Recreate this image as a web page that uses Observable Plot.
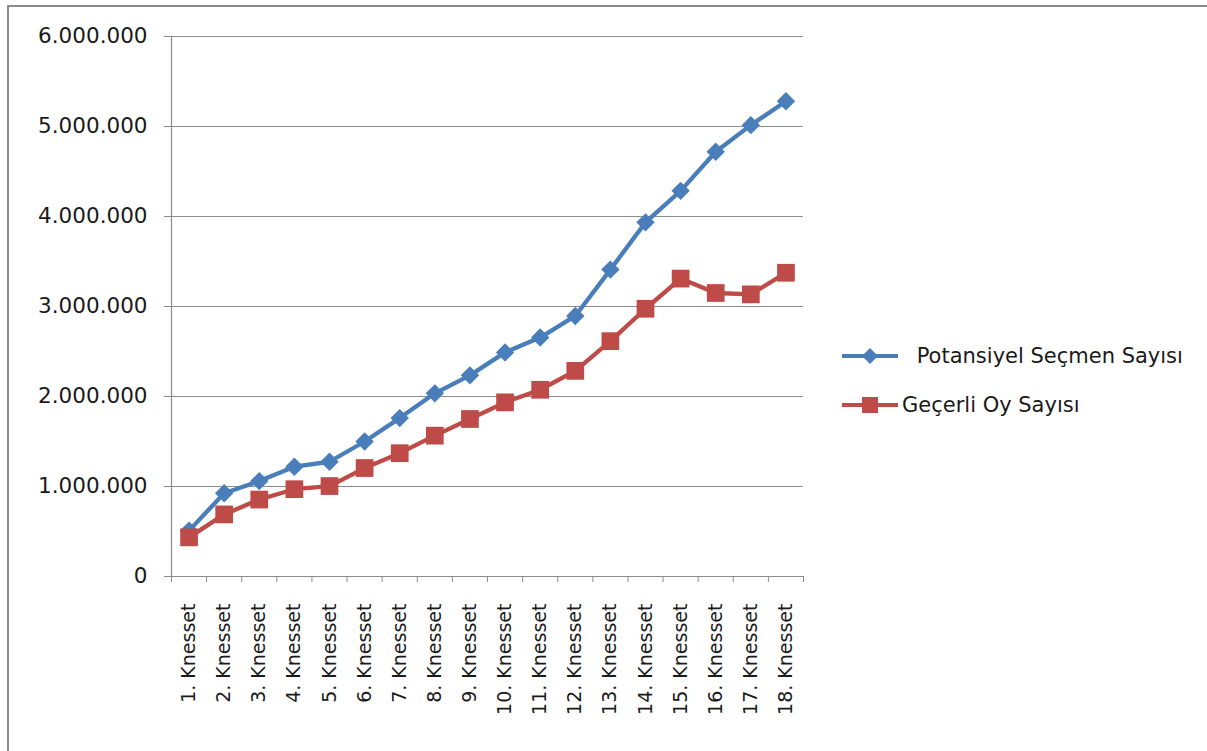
<!DOCTYPE html>
<html>
<head>
<meta charset="utf-8">
<script src="https://cdn.jsdelivr.net/npm/d3@7"></script>
<script src="https://cdn.jsdelivr.net/npm/@observablehq/plot@0.6"></script>
<style>
  body { margin: 0; background: #fff; }
  #wrap { position: relative; width: 1207px; height: 751px; overflow: hidden; background: #fff; }
  #frame { position: absolute; left: 7px; top: 5px; width: 1220px; height: 800px;
           border-left: 2px solid #8c8c8c; border-top: 2px solid #8c8c8c; }
  #chart { position: absolute; left: 0; top: 0; }
  .leg { position: absolute; display: flex; align-items: center; font-family: "DejaVu Sans"; font-size: 21px; color: #1a1a1a; white-space: pre; }
  .leg svg { display: block; }
</style>
</head>
<body>
<div id="wrap">
  <div id="frame"></div>
  <div id="chart"></div>
  <div class="leg" id="leg1" style="left:842px; top:343px;"></div>
  <div class="leg" id="leg2" style="left:842px; top:392px;"></div>
</div>
<script>
const categories = ["1. Knesset","2. Knesset","3. Knesset","4. Knesset","5. Knesset","6. Knesset",
  "7. Knesset","8. Knesset","9. Knesset","10. Knesset","11. Knesset","12. Knesset",
  "13. Knesset","14. Knesset","15. Knesset","16. Knesset","17. Knesset","18. Knesset"];
const potansiyelSecmen = [510000, 925000, 1060000, 1220000, 1275000, 1500000, 1760000, 2035000, 2235000,
  2490000, 2655000, 2895000, 3410000, 3935000, 4285000, 4720000, 5015000, 5280000];
const gecerliOy = [435000, 690000, 855000, 970000, 1005000, 1205000, 1370000, 1565000, 1750000,
  1935000, 2075000, 2285000, 2615000, 2975000, 3310000, 3150000, 3135000, 3375000];
const seriesNames = [" Potansiyel Seçmen Sayısı", "Geçerli Oy Sayısı"];
const yTicks = [0, 1000000, 2000000, 3000000, 4000000, 5000000, 6000000];

const blue = "#4a7ebb";
const red = "#be4b48";
const gridColor = "#8c8c8c";

const rows = categories.map((c, i) => ({i: i + 1, c, p: potansiyelSecmen[i], g: gecerliOy[i]}));
const fmt = d => d3.format(",")(d).replace(/,/g, ".");
const boundaries = d3.range(0.5, categories.length + 1, 1);

const chart = Plot.plot({
  width: 1207, height: 751,
  marginLeft: 171, marginRight: 404, marginTop: 36, marginBottom: 175,
  style: {fontFamily: "DejaVu Sans", background: "transparent", color: "#1a1a1a"},
  x: {type: "linear", domain: [0.5, categories.length + 0.5]},
  y: {domain: [0, 6000000]},
  marks: [
    Plot.gridY(yTicks, {stroke: gridColor, strokeOpacity: 1, strokeWidth: 1.2}),
    Plot.axisY(yTicks, {tickSize: 7, tickPadding: 17, tickFormat: fmt, fontSize: 21.5, stroke: gridColor, label: null}),
    Plot.axisX(d3.range(1, categories.length + 1), {tickSize: 0, tickPadding: 27, tickRotate: -90,
      tickFormat: i => categories[i - 1], fontSize: 19, label: null}),
    Plot.axisX(boundaries, {tickSize: 6, tickFormat: () => "", stroke: gridColor, label: null}),
    Plot.ruleX([0.5], {stroke: gridColor, strokeWidth: 1.2}),
    Plot.ruleY([0], {stroke: gridColor, strokeWidth: 1.2}),
    Plot.lineY(rows, {x: "i", y: "p", stroke: blue, strokeWidth: 4.3}),
    Plot.dot(rows, {x: "i", y: "p", symbol: "diamond2", r: 8.3, fill: blue, stroke: null}),
    Plot.lineY(rows, {x: "i", y: "g", stroke: red, strokeWidth: 4.3}),
    Plot.dot(rows, {x: "i", y: "g", symbol: "square", r: 10, fill: red, stroke: null})
  ]
});
document.getElementById("chart").appendChild(chart);

function swatch(color, shape) {
  const ns = "http://www.w3.org/2000/svg";
  const svg = document.createElementNS(ns, "svg");
  svg.setAttribute("width", 58); svg.setAttribute("height", 26);
  const line = document.createElementNS(ns, "line");
  line.setAttribute("x1", 0); line.setAttribute("x2", 56); line.setAttribute("y1", 13); line.setAttribute("y2", 13);
  line.setAttribute("stroke", color); line.setAttribute("stroke-width", 4);
  svg.appendChild(line);
  const p = document.createElementNS(ns, "path");
  p.setAttribute("d", shape === "diamond" ? "M28,5L36,13L28,21L20,13Z" : "M20,5H36V21H20Z");
  p.setAttribute("fill", color);
  svg.appendChild(p);
  return svg;
}
const l1 = document.getElementById("leg1");
l1.appendChild(swatch(blue, "diamond"));
const t1 = document.createElement("span"); t1.textContent = seriesNames[0]; t1.style.marginLeft = "10px"; l1.appendChild(t1);
const l2 = document.getElementById("leg2");
l2.appendChild(swatch(red, "square"));
const t2 = document.createElement("span"); t2.textContent = seriesNames[1]; t2.style.marginLeft = "2px"; l2.appendChild(t2);
</script>
</body>
</html>
